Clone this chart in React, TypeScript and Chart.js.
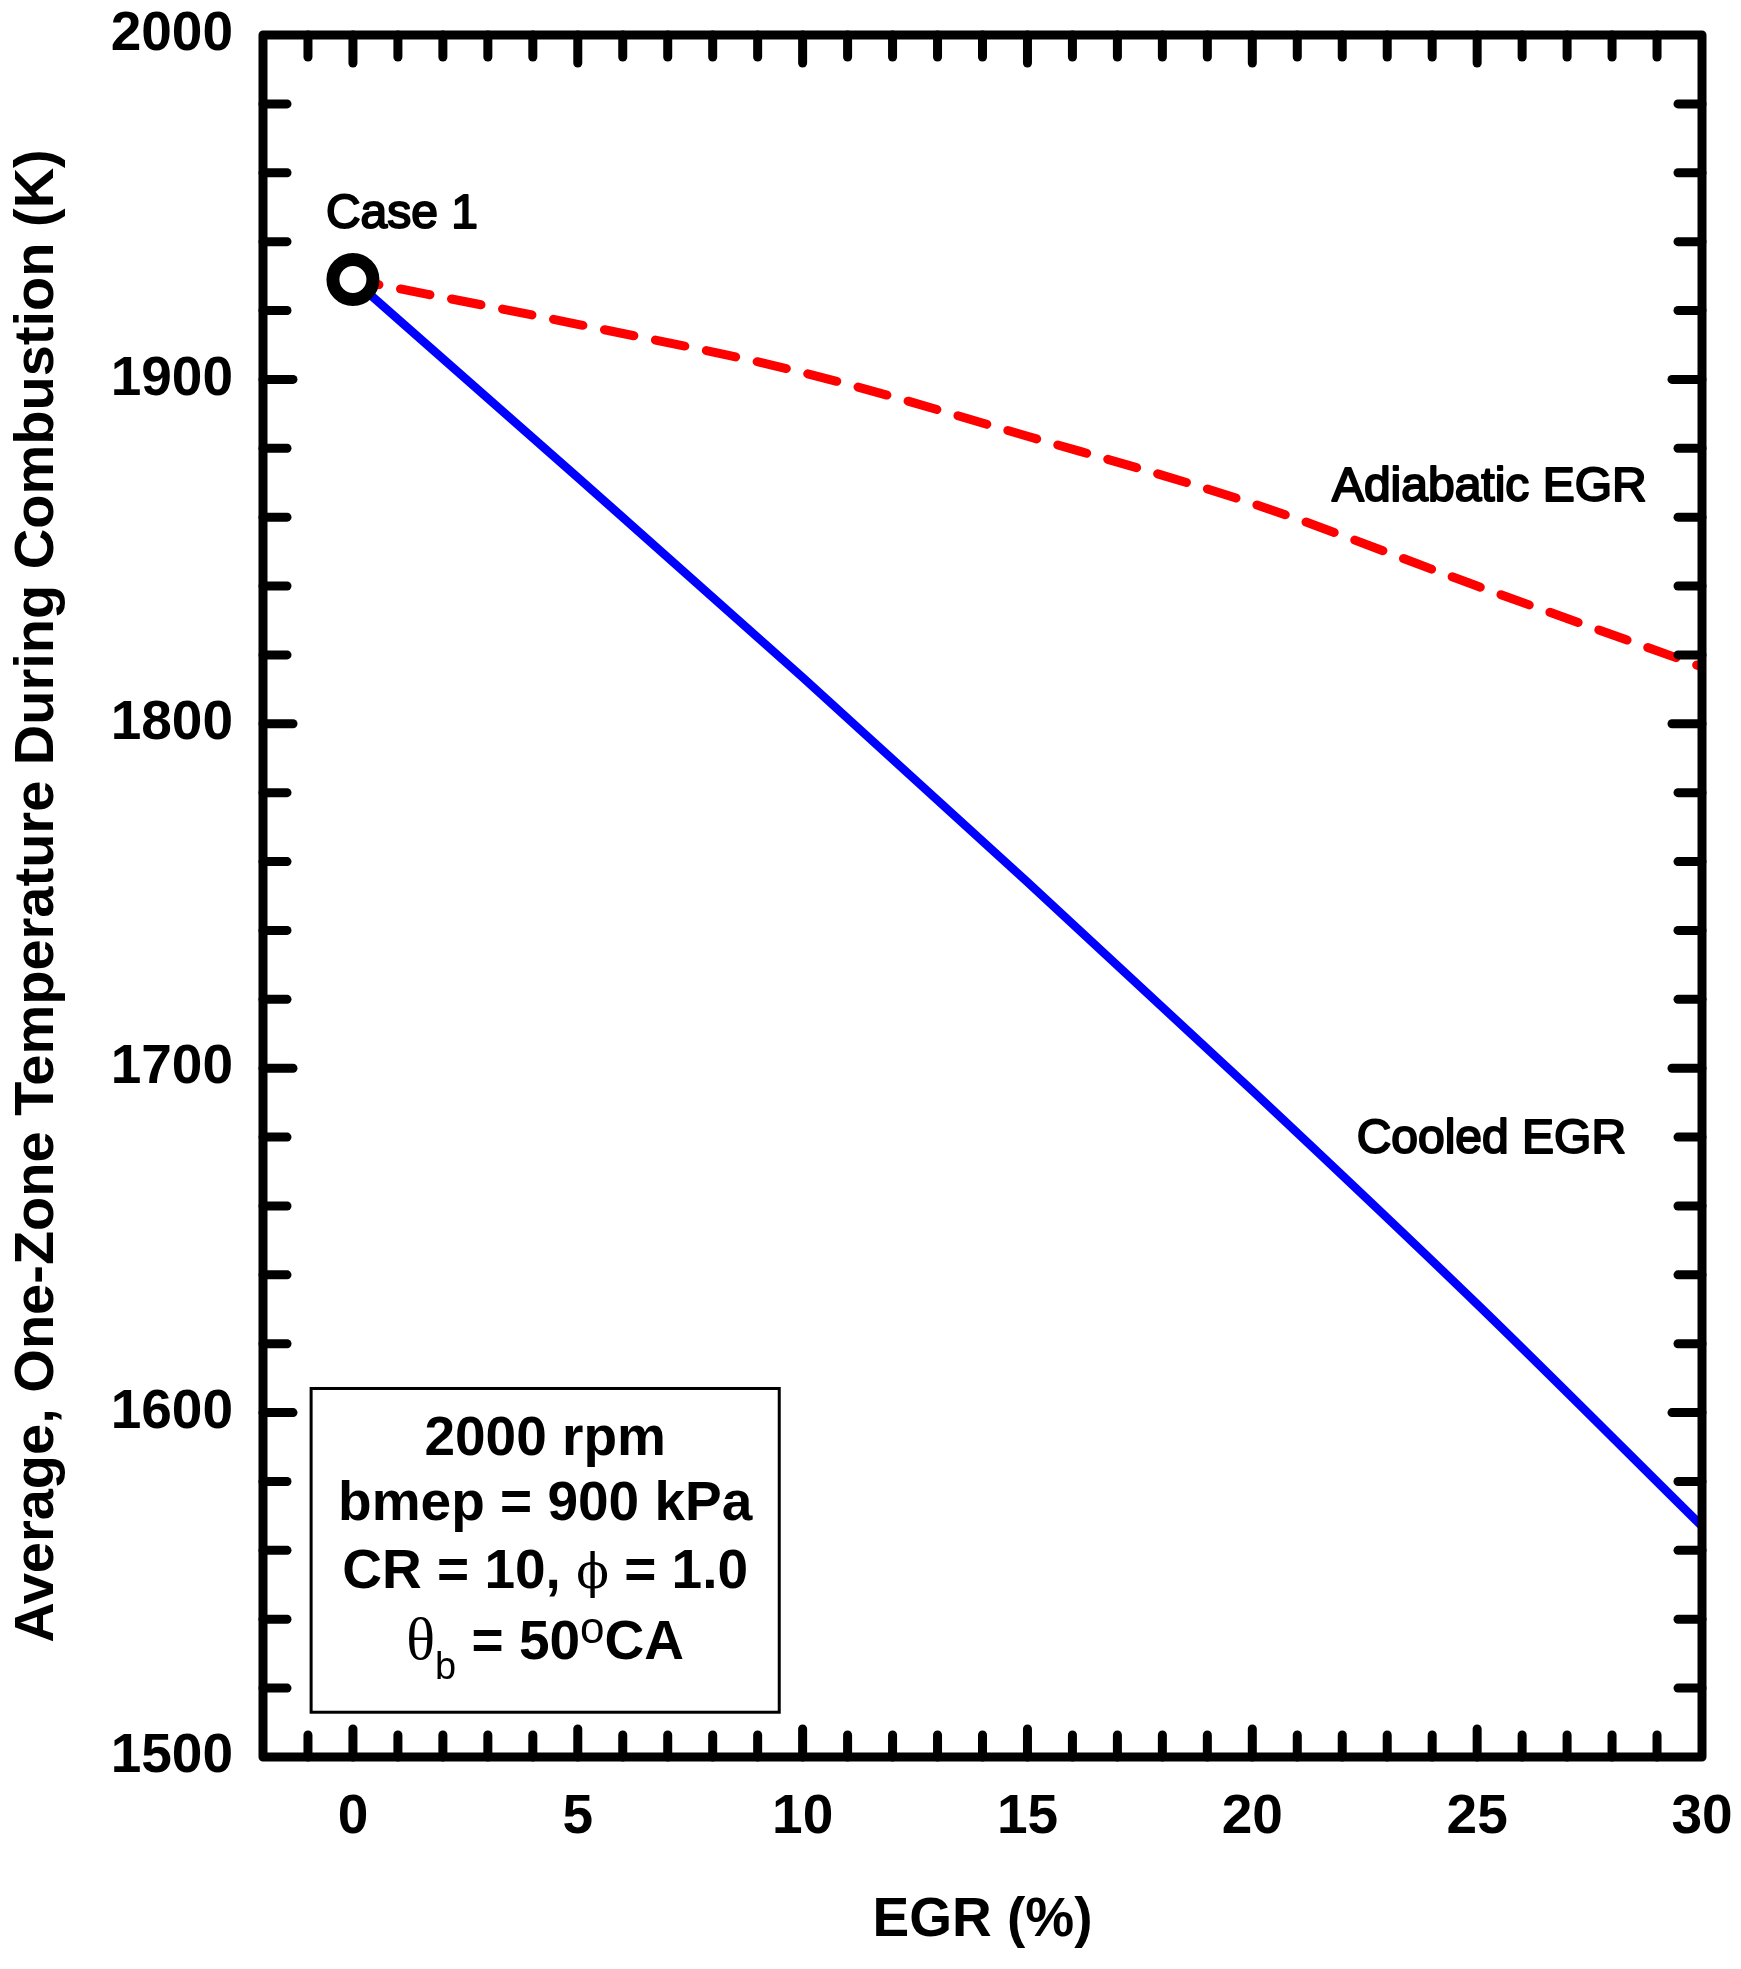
import { useEffect, useRef } from "react";
import { Chart, registerables } from "chart.js";

Chart.register(...registerables);

// EGR (%) on the x axis, temperature (K) on the y axis
const egr = [0, 5, 10, 15, 20, 25, 30];
const adiabaticTemp = [1929, 1916, 1902, 1883.5, 1864, 1840, 1816.5];
const cooledTemp = [1929, 1871.5, 1813.5, 1754, 1693.5, 1631.5, 1567];
const case1 = [{ x: 0, y: 1929 }];

const xTicks = [0, 5, 10, 15, 20, 25, 30];
const yTicks = [1500, 1600, 1700, 1800, 1900, 2000];

const SANS = '"Liberation Sans", Arial, sans-serif';
const SERIF = '"Liberation Serif", "DejaVu Serif", serif';

type Seg = { text: string; font: string; dy?: number };

const boxLines: Seg[][] = [
  [{ text: "2000 rpm", font: `bold 55px ${SANS}` }],
  [{ text: "bmep = 900 kPa", font: `bold 55px ${SANS}` }],
  [
    { text: "CR = 10, ", font: `bold 55px ${SANS}` },
    { text: "\u03D5", font: `48px "DejaVu Serif", serif` },
    { text: " = 1.0", font: `bold 55px ${SANS}` },
  ],
  [
    { text: "\u03B8", font: `60px ${SERIF}` },
    { text: "b", font: `38px ${SANS}`, dy: 20 },
    { text: " = 50", font: `bold 55px ${SANS}` },
    { text: "o", font: `44px ${SANS}`, dy: -16 },
    { text: "CA", font: `bold 55px ${SANS}` },
  ],
];

function drawSegs(ctx: CanvasRenderingContext2D, segs: Seg[], cx: number, base: number) {
  let total = 0;
  const widths = segs.map((s) => {
    ctx.font = s.font;
    const w = ctx.measureText(s.text).width;
    total += w;
    return w;
  });
  let x = cx - total / 2;
  segs.forEach((s, i) => {
    ctx.font = s.font;
    ctx.fillText(s.text, x, base + (s.dy ?? 0));
    x += widths[i];
  });
}

// slightly heavier than the regular face, like the original labels
function label(ctx: CanvasRenderingContext2D, text: string, x: number, y: number) {
  ctx.font = `48px ${SANS}`;
  ctx.lineWidth = 2;
  ctx.lineJoin = "round";
  ctx.strokeText(text, x, y);
  ctx.fillText(text, x, y);
}

const framePlugin = {
  id: "frame",
  afterDatasetsDraw(chart: any) {
    const { ctx, chartArea: a } = chart;
    const xs = chart.scales.x;
    const ys = chart.scales.y;
    const seg = (x1: number, y1: number, x2: number, y2: number) => {
      ctx.beginPath();
      ctx.moveTo(x1, y1);
      ctx.lineTo(x2, y2);
      ctx.stroke();
    };
    ctx.save();
    ctx.strokeStyle = "#000";
    ctx.fillStyle = "#000";
    ctx.lineWidth = 9;
    ctx.lineCap = "round";
    ctx.lineJoin = "round";

    // inward ticks, minor every 1 % and 20 K
    for (let v = Math.ceil(xs.min); v < xs.max; v += 1) {
      if (v <= xs.min) continue;
      const px = xs.getPixelForValue(v);
      const len = v % 5 === 0 ? 28 : 22;
      seg(px, a.bottom, px, a.bottom - len);
      seg(px, a.top, px, a.top + len);
    }
    for (let v = ys.min + 20; v < ys.max; v += 20) {
      const py = ys.getPixelForValue(v);
      const len = v % 100 === 0 ? 30 : 24;
      seg(a.left, py, a.left + len, py);
      seg(a.right, py, a.right - len, py);
    }
    ctx.strokeRect(a.left, a.top, a.right - a.left, a.bottom - a.top);

    // annotations
    ctx.textAlign = "left";
    ctx.textBaseline = "alphabetic";
    label(ctx, "Case 1", xs.getPixelForValue(-0.6), ys.getPixelForValue(1944));
    label(ctx, "Adiabatic EGR", xs.getPixelForValue(21.77), ys.getPixelForValue(1864.7));
    label(ctx, "Cooled EGR", xs.getPixelForValue(22.32), ys.getPixelForValue(1675.4));

    // condition box
    const bl = xs.getPixelForValue(-0.93);
    const br = xs.getPixelForValue(9.48);
    const bt = ys.getPixelForValue(1607);
    const bb = ys.getPixelForValue(1513);
    ctx.lineWidth = 3;
    ctx.lineJoin = "miter";
    ctx.fillStyle = "#fff";
    ctx.fillRect(bl, bt, br - bl, bb - bt);
    ctx.strokeRect(bl, bt, br - bl, bb - bt);
    ctx.fillStyle = "#000";
    const cx = (bl + br) / 2;
    const offsets = [67, 132, 200, 271];
    boxLines.forEach((line, i) => drawSegs(ctx, line, cx, bt + offsets[i]));
    ctx.restore();
  },
};

const noPadding = (scale: any) => {
  scale.paddingTop = 0;
  scale.paddingBottom = 0;
  scale.paddingLeft = 0;
  scale.paddingRight = 0;
};

export default function App() {
  const canvasRef = useRef<HTMLCanvasElement>(null);

  useEffect(() => {
    if (!canvasRef.current) return;
    const chart = new Chart(canvasRef.current, {
      type: "line",
      data: {
        datasets: [
          {
            label: "Case 1",
            data: case1,
            showLine: false,
            pointRadius: 20,
            pointBorderWidth: 13,
            pointBackgroundColor: "#fff",
            pointBorderColor: "#000",
          },
          {
            label: "Cooled EGR",
            data: egr.map((x, i) => ({ x, y: cooledTemp[i] })),
            borderColor: "#0000ff",
            borderWidth: 8.5,
            pointRadius: 0,
            cubicInterpolationMode: "monotone",
          },
          {
            label: "Adiabatic EGR",
            data: egr.map((x, i) => ({ x, y: adiabaticTemp[i] })),
            borderColor: "#ff0000",
            borderWidth: 9,
            borderDash: [30, 22],
            borderDashOffset: 3.5,
            borderCapStyle: "round",
            pointRadius: 0,
            cubicInterpolationMode: "monotone",
          },
        ],
      },
      options: {
        animation: false,
        responsive: true,
        maintainAspectRatio: false,
        devicePixelRatio: 1,
        layout: { padding: { left: 0, right: 39, top: 35, bottom: 0 } },
        plugins: { legend: { display: false }, tooltip: { enabled: false } },
        scales: {
          x: {
            type: "linear",
            min: -2,
            max: 30,
            grid: { display: false, drawTicks: false },
            border: { display: false },
            afterBuildTicks: (scale: any) => {
              scale.ticks = xTicks.map((value) => ({ value }));
            },
            afterFit: (scale: any) => {
              scale.height = 212;
              noPadding(scale);
            },
            ticks: {
              color: "#000",
              font: { family: SANS, size: 55, weight: "bold" },
              padding: 28,
              maxRotation: 0,
              autoSkip: false,
              callback: (v: any) => String(v),
            },
            title: {
              display: true,
              text: "EGR (%)",
              color: "#000",
              font: { family: SANS, size: 55, weight: "bold" },
              padding: { top: 0, bottom: 15 },
            },
          },
          y: {
            type: "linear",
            min: 1500,
            max: 2000,
            grid: { display: false, drawTicks: false },
            border: { display: false },
            afterBuildTicks: (scale: any) => {
              scale.ticks = yTicks.map((value) => ({ value }));
            },
            afterFit: (scale: any) => {
              scale.width = 263;
              noPadding(scale);
            },
            ticks: {
              color: "#000",
              font: { family: SANS, size: 55, weight: "bold" },
              padding: 30,
              autoSkip: false,
              callback: (v: any) => String(v),
            },
            title: {
              display: true,
              text: "Average, One-Zone Temperature During Combustion (K)",
              color: "#000",
              font: { family: SANS, size: 56, weight: "bold" },
              padding: { top: 4, bottom: 0 },
            },
          },
        },
      },
      plugins: [framePlugin],
    });
    return () => chart.destroy();
  }, []);

  return (
    <div style={{ position: "absolute", left: 0, top: 0, width: 1741, height: 1969, background: "#fff" }}>
      <canvas ref={canvasRef}></canvas>
    </div>
  );
}
